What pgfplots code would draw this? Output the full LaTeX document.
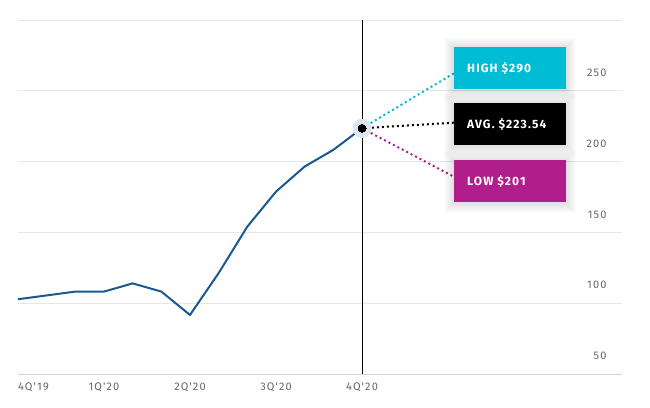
\documentclass[border=0pt]{standalone}
\usepackage{pgfplots}
\pgfplotsset{compat=1.18}
\usepackage{fontspec}
\setmainfont{Fira Sans}
\newfontfamily\tickfont[LetterSpace=10]{Fira Sans}
\newfontfamily\boxfont[LetterSpace=9]{Fira Sans}
\definecolor{linecol}{HTML}{19598F}
\definecolor{gridcol}{HTML}{E6E6E6}
\definecolor{axiscol}{HTML}{CCD6EB}
\definecolor{highcol}{HTML}{00BCD4}
\definecolor{lowcol}{HTML}{B01E8C}
\definecolor{halocol}{HTML}{DCE6F0}
\definecolor{tickcol}{HTML}{666666}
\begin{document}
\begin{tikzpicture}[x=1pt,y=1pt]
\useasboundingbox (0,0) rectangle (650,407);
\begin{axis}[
  at={(18pt,33pt)}, anchor=south west,
  scale only axis, width=604pt, height=354pt,
  xmin=0, xmax=21.07, ymin=50, ymax=300,
  axis line style={draw=none},
  ymajorgrids, grid style={gridcol, line width=1pt},
  ytick={50,100,...,300}, yticklabels={50,100,150,200,250,{}},
  xtick={0,3,6,9,12}, xticklabels={\rlap{4Q'19},1Q'20,2Q'20,3Q'20,4Q'20},
  major tick length=0,
  yticklabel pos=right,
  yticklabel style={anchor=east, xshift=-12pt, yshift=18pt, font=\tickfont\fontsize{11}{13}\selectfont, text=tickcol},
  xticklabel style={anchor=center, yshift=-13pt, font=\tickfont\fontsize{11}{13}\selectfont, text=tickcol},
  clip=false,
]
\draw[axiscol, line width=1pt] (axis cs:0,50) -- (axis cs:21.07,50);
\addplot[only marks, color=halocol, mark=*, mark size=9pt, mark options={solid, fill=halocol, draw=halocol, line width=0pt}] coordinates {(12,223.54)};
\addplot[linecol, line width=2pt, line join=round] coordinates {
(0,102.8)(1,105.5)(2,108.2)(3,108.2)(4,114.0)(5,108.2)(6,91.7)
(7,121.3)(8,154.1)(9,178.8)(10,196.5)(11,208.3)(12,223.54)};
\addplot[black, line width=1pt] coordinates {(12,50)(12,300)};
\addplot[highcol, line width=2pt, dash pattern=on 2pt off 3pt] coordinates {(12,223.54)(15.21,262.4)};
\addplot[black, line width=2pt, dash pattern=on 2pt off 3pt] coordinates {(12,223.54)(15.21,227.5)};
\addplot[lowcol, line width=2pt, dash pattern=on 2pt off 3pt] coordinates {(12,223.54)(15.21,189.3)};
\addplot[only marks, color=black, mark=*, mark size=4pt, mark options={solid, fill=black, draw=black, line width=0pt}] coordinates {(12,223.54)};
\end{axis}
% shadows
\foreach \yb/\yt in {318/360, 262/304, 205/247}{
  \foreach \k in {1,...,10}{
    \fill[black, opacity=0.012] (454-\k, \yb-\k-1) rectangle (566+\k, \yt+\k-1);
  }
}
\fill[highcol] (454,318) rectangle (566,360);
\fill[black] (454,262) rectangle (566,304);
\fill[lowcol] (454,205) rectangle (566,247);
\node[anchor=west, text=white, inner sep=0pt, font=\boxfont\bfseries\fontsize{12}{14}\selectfont] at (467,339) {HIGH \$290};
\node[anchor=west, text=white, inner sep=0pt, font=\boxfont\bfseries\fontsize{12}{14}\selectfont] at (467,283) {AVG. \$223.54};
\node[anchor=west, text=white, inner sep=0pt, font=\boxfont\bfseries\fontsize{12}{14}\selectfont] at (467,226) {LOW \$201};
\end{tikzpicture}
\end{document}
